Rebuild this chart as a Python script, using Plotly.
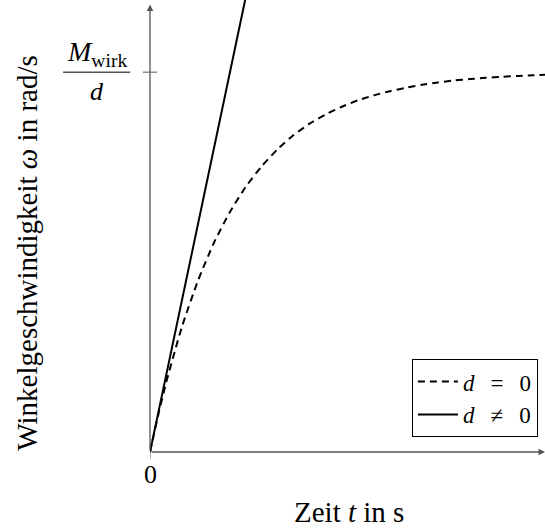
import plotly.graph_objects as go

# dashed curve: omega over t (t in units of the time constant), normalised to M_wirk/d
t_dashed = [0.0, 0.1, 0.2, 0.4, 0.6, 0.8, 1.0, 1.2, 1.4, 1.6, 1.8, 2.0, 2.2, 2.4, 2.6,
            2.8, 3.0, 3.2, 3.4, 3.6, 3.8, 4.0, 4.2, 4.4, 4.6, 4.8, 4.94]
w_dashed = [0.0, 0.095, 0.181, 0.330, 0.451, 0.551, 0.632, 0.699, 0.753, 0.798, 0.835,
            0.865, 0.889, 0.909, 0.926, 0.939, 0.950, 0.959, 0.967, 0.973, 0.978, 0.982,
            0.985, 0.988, 0.990, 0.992, 0.993]
# solid line (tangent at origin)
t_solid = [0.0, 1.19]
w_solid = [0.0, 1.19]

legend_names = ["<i>d</i>\u2002\u2009=\u2002\u20090", "<i>d</i>\u2002\u2009≠\u2002\u20090"]
x_range = [0, 4.94]
y_range = [0, 1.19]

FONT = "Liberation Serif"
FS = 26
FS_TITLE = 29
FS_LEG = 23

fig = go.Figure()
fig.add_trace(go.Scatter(x=t_dashed, y=w_dashed, mode="lines", name=legend_names[0],
                         line=dict(color="black", width=2, dash="7px,5px", shape="spline", smoothing=0.6)))
fig.add_trace(go.Scatter(x=t_solid, y=w_solid, mode="lines", name=legend_names[1],
                         line=dict(color="black", width=2)))

fig.update_layout(
    width=545, height=528,
    margin=dict(l=150, r=0, t=0, b=76),
    paper_bgcolor="white", plot_bgcolor="white",
    font=dict(family=FONT, size=FS, color="black"),
    xaxis=dict(range=x_range, showgrid=False, zeroline=False, showline=False,
               showticklabels=False, ticks=""),
    yaxis=dict(range=y_range, showgrid=False, zeroline=False, showline=False,
               showticklabels=False, ticks=""),
    legend=dict(x=0.982, y=0.033, xanchor="right", yanchor="bottom",
                bordercolor="black", borderwidth=1, bgcolor="white",
                font=dict(family=FONT, size=FS_LEG), tracegroupgap=0, itemwidth=40),
    showlegend=True,
)

axis_col = "#555555"
# x axis with arrow
fig.add_annotation(x=x_range[1], y=0, ax=0, ay=0, xref="x", yref="y", axref="x", ayref="y",
                   showarrow=True, arrowhead=2, arrowsize=1, arrowwidth=1.3, arrowcolor=axis_col, text="")
# y axis with arrow
fig.add_annotation(x=0, y=y_range[1] - 0.012, ax=0, ay=0, xref="x", yref="y", axref="x", ayref="y",
                   showarrow=True, arrowhead=2, arrowsize=1, arrowwidth=1.3, arrowcolor=axis_col, text="")

# ticks
fig.add_shape(type="line", xref="x", yref="paper", x0=0, x1=0, y0=0, y1=-0.015,
              line=dict(color=axis_col, width=1))
fig.add_shape(type="line", xref="paper", yref="y", x0=-0.018, x1=0.018, y0=1, y1=1,
              line=dict(color=axis_col, width=1))

# tick labels
fig.add_annotation(x=0, y=0, xref="x", yref="y", yshift=-22, text="0", showarrow=False,
                   xanchor="center", yanchor="middle", font=dict(family=FONT, size=FS))
fig.add_annotation(x=-0.135, y=1, xref="paper", yref="y", yshift=19, xanchor="center", yanchor="middle",
                   text="<i>M</i><sub>wirk</sub>", showarrow=False, font=dict(family=FONT, size=28))
fig.add_annotation(x=-0.134, y=1, xref="paper", yref="y", yshift=-19, xanchor="center", yanchor="middle",
                   text="<i>d</i>", showarrow=False, font=dict(family=FONT, size=FS))
fig.add_shape(type="line", xref="paper", yref="y", x0=-0.22, x1=-0.05, y0=1, y1=1,
              line=dict(color="black", width=1))

# axis titles
fig.add_annotation(x=0.504, y=0, xref="paper", yref="paper", yshift=-60, xanchor="center", yanchor="middle",
                   text="Zeit <i>t</i> in s", showarrow=False, font=dict(family=FONT, size=FS_TITLE))
fig.add_annotation(x=-0.31, y=0.44, xref="paper", yref="paper", textangle=-90,
                   xanchor="center", yanchor="middle",
                   text="Winkelgeschwindigkeit <i>ω</i> in rad/s", showarrow=False,
                   font=dict(family=FONT, size=FS_TITLE))

fig.write_html("out.html", config={"displayModeBar": False},
               post_script="document.body.style.margin='0';")
